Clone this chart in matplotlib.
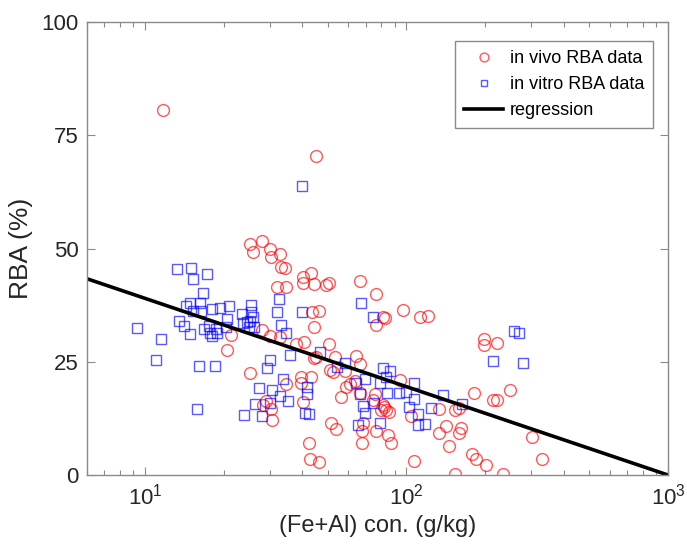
import numpy as np
import matplotlib
matplotlib.use("Agg")
import matplotlib.pyplot as plt
from matplotlib.ticker import LogLocator, NullFormatter, FixedLocator

plt.rcParams['font.family'] = ['Liberation Sans', 'DejaVu Sans']

# in vivo RBA data: (Fe+Al) g/kg, RBA %
vivo_x = [11.7, 45.0, 25.2, 28.0, 25.9, 30.0, 30.3, 32.7, 33.2, 34.2, 32.0, 34.5,
          28.0, 30.0, 32.7, 21.3, 20.5, 25.3, 29.1, 28.2, 30.3, 30.5, 34.7,
          40.2, 43.3, 40.2, 44.2, 49.4, 50.5, 66.7, 76.2, 43.4, 46.3, 44.3,
          81.2, 83.0, 76.6, 97.4, 113.1, 120.6, 37.9, 40.4, 50.5, 44.3, 53.1,
          45.2, 64.3, 66.2, 50.8, 52.3, 58.0, 39.6, 43.3, 39.6, 58.9, 60.6,
          63.3, 94.6, 56.0, 75.5, 74.3, 81.2, 80.0, 83.6, 86.1, 82.3, 40.2,
          51.6, 53.6, 67.7, 76.6, 68.1, 84.8, 87.4, 67.7, 42.3, 42.9, 46.3,
          107.3, 104.2, 197.6, 197.6, 221.2, 180.6, 213.5, 221.2, 249.5, 132.8,
          153.8, 158.5, 141.8, 132.8, 161.8, 159.3, 301.9, 145.9, 178.2, 184.5,
          329.6, 201.4, 153.8, 234.5, 66.2]
vivo_y = [80.6, 70.4, 51.0, 51.6, 49.2, 49.8, 48.2, 48.7, 46.0, 45.8, 41.6, 41.6,
          32.0, 30.7, 30.4, 30.8, 27.6, 22.6, 16.4, 15.5, 14.6, 12.1, 20.2,
          43.8, 44.5, 42.3, 42.1, 41.9, 42.4, 42.8, 40.0, 36.0, 36.2, 32.7,
          34.9, 34.6, 33.1, 36.4, 34.9, 35.1, 28.9, 29.4, 28.9, 25.8, 26.1,
          26.1, 26.2, 24.6, 23.2, 22.8, 23.0, 21.7, 21.7, 20.4, 19.5, 20.2,
          20.8, 21.0, 17.2, 17.9, 16.6, 15.5, 14.3, 14.3, 14.0, 15.1, 16.2,
          11.4, 10.2, 9.7, 9.8, 11.5, 8.8, 7.0, 7.1, 7.1, 3.5, 2.9,
          3.0, 13.1, 30.1, 28.7, 29.2, 18.2, 16.6, 16.6, 18.8, 14.5,
          14.3, 14.7, 10.9, 9.2, 10.3, 9.3, 8.5, 6.4, 4.6, 3.5,
          3.5, 2.2, 0.2, 0.2, 18.0]

# in vitro RBA data
vitro_x = [9.3, 11.5, 11.0, 16.1, 18.5, 15.8, 13.2, 15.0, 15.3, 17.2, 16.7, 14.8,
           16.3, 14.3, 15.2, 16.4, 18.0, 19.3, 20.9, 13.5, 14.1, 14.8, 16.8, 17.5,
           17.8, 18.7, 18.8, 18.1, 20.5, 20.4, 23.5, 25.4, 25.5, 25.8, 25.2, 24.5,
           23.7, 26.1, 25.0, 32.6, 32.1, 33.2, 34.5, 35.8, 30.1, 29.4, 33.6, 27.4,
           30.6, 32.7, 35.2, 26.3, 30.0, 24.0, 27.9, 41.6, 41.6, 40.8, 42.3, 40.0,
           39.7, 67.2, 74.3, 46.6, 54.0, 58.0, 64.3, 69.5, 66.2, 68.1, 69.2, 65.2,
           78.9, 81.2, 86.7, 83.6, 79.4, 84.4, 94.0, 99.8, 102.6, 107.3, 107.3,
           110.9, 110.9, 118.2, 74.8, 124.3, 137.6, 162.6, 213.5, 258.3, 268.5, 279.7]
vitro_y = [32.5, 30.0, 25.3, 24.1, 24.1, 14.5, 45.4, 45.6, 43.3, 44.3, 40.2, 37.9,
           38.0, 37.3, 36.3, 36.3, 36.6, 36.9, 37.3, 34.1, 33.0, 31.2, 32.2, 32.8,
           31.3, 32.2, 31.3, 30.7, 34.5, 32.7, 35.5, 37.5, 36.0, 34.9, 34.1, 33.8,
           33.6, 32.6, 32.6, 38.9, 36.0, 33.1, 31.3, 26.5, 25.3, 23.6, 21.3, 19.3,
           18.7, 17.5, 16.3, 15.7, 15.9, 13.3, 13.0, 19.5, 17.9, 13.8, 13.4, 36.0,
           63.8, 37.9, 34.8, 27.2, 23.9, 24.8, 20.4, 21.2, 17.9, 15.3, 13.6, 11.0,
           11.4, 23.6, 23.0, 21.7, 20.4, 18.2, 18.0, 18.4, 15.0, 20.4, 16.8,
           13.5, 11.0, 11.3, 15.8, 14.7, 17.7, 15.7, 25.2, 31.9, 31.3, 24.7]

# regression: RBA = a + b*log10(x)
reg_a = 58.5
reg_b = -19.5
reg_range = [6.0, 1000.0]

fig = plt.figure(figsize=(6.87, 5.46), dpi=100)
ax = fig.add_axes([0.1266, 0.130, 0.8457, 0.8297])

ax.plot(vivo_x, vivo_y, 'o', ls='none', mfc='none', mec=(1, 0, 0, 0.65),
        mew=1.0, ms=8.5, label='in vivo RBA data')
ax.plot(vitro_x, vitro_y, 's', ls='none', mfc='none', mec=(0, 0, 1, 0.65),
        mew=1.0, ms=6.5, label='in vitro RBA data')
xr = np.logspace(np.log10(reg_range[0]), np.log10(reg_range[1]), 50)
ax.plot(xr, reg_a + reg_b * np.log10(xr), color='black', lw=2.6, label='regression')

ax.set_xscale('log')
ax.set_xlim(6.0, 1000)
ax.set_ylim(0, 100)
ax.yaxis.set_major_locator(FixedLocator([0, 25, 50, 75, 100]))
ax.xaxis.set_major_locator(LogLocator(base=10, numticks=10))
ax.xaxis.set_minor_locator(LogLocator(base=10, subs=np.arange(2, 10), numticks=10))
ax.xaxis.set_minor_formatter(NullFormatter())

gray = '#8a8a8a'
for s in ax.spines.values():
    s.set_color(gray)
    s.set_linewidth(1.0)
ax.tick_params(which='both', direction='in', top=True, right=True, color=gray,
               labelcolor='#262626', labelsize=16, width=0.8)
ax.tick_params(which='major', length=6, pad=6)
ax.tick_params(which='minor', length=3.5)

ax.set_xlabel('(Fe+Al) con. (g/kg)', fontsize=17, color='#262626', labelpad=4)
ax.set_ylabel('RBA (%)', fontsize=19, color='#262626', labelpad=6)

leg = ax.legend(loc='upper right', bbox_to_anchor=(0.99, 0.978), fontsize=13,
                frameon=True, fancybox=False, edgecolor=gray, framealpha=1,
                borderpad=0.5, handlelength=2.2, handletextpad=0.35,
                labelspacing=0.5, markerscale=0.75)
leg.get_frame().set_linewidth(1.0)

fig.savefig('out.png', dpi=100)
